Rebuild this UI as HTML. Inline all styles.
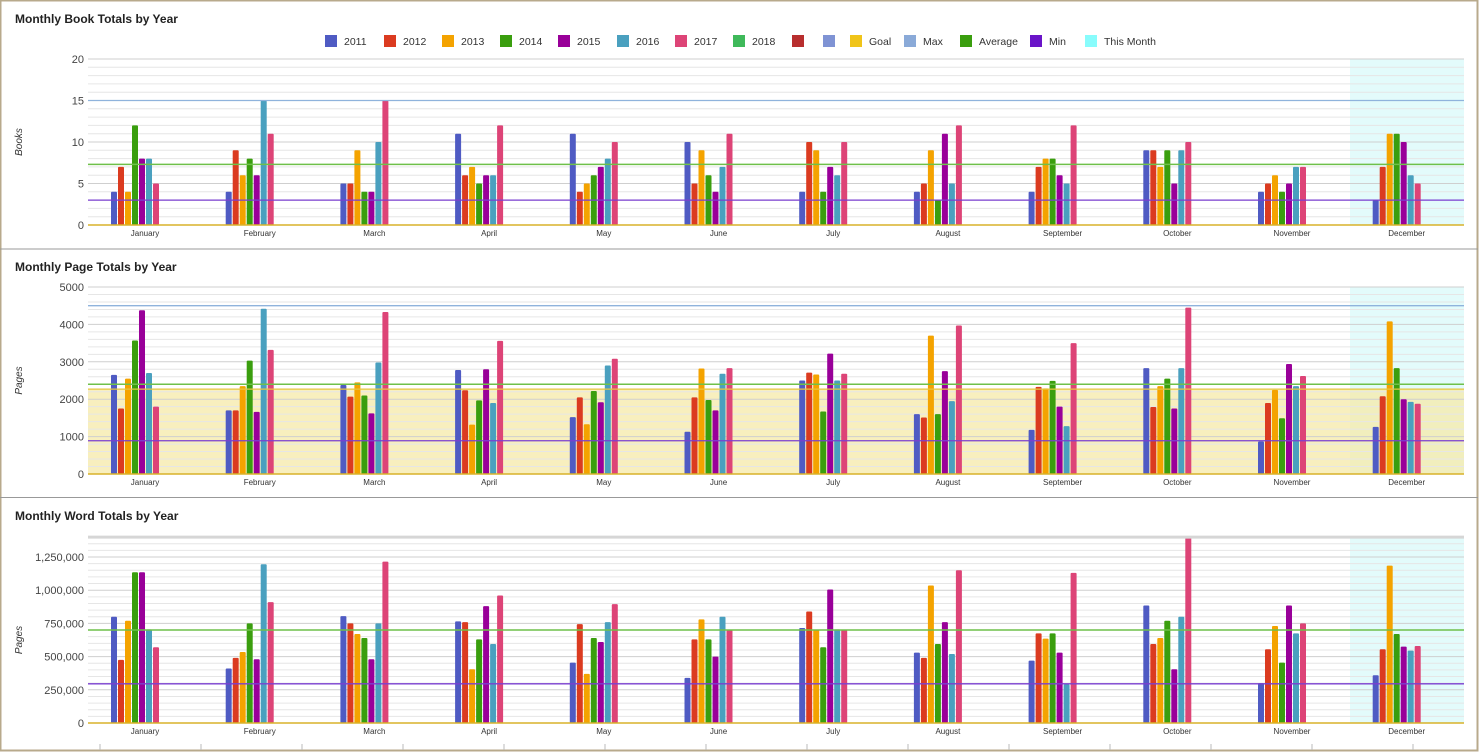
<!DOCTYPE html><html><head><meta charset="utf-8"><style>
html,body{margin:0;padding:0;background:#fff;width:1480px;height:752px;overflow:hidden}
svg{display:block;font-family:"Liberation Sans",Arial,sans-serif}
</style></head><body>
<svg id="s" width="1480" height="752" xmlns="http://www.w3.org/2000/svg"></svg>
<script>
const S=document.getElementById('s');let h='';
const col=['#4f5bc3','#db3b20','#f4a300','#3a9e0e','#990099','#4aa0bf','#dd4477'];
const months=['January','February','March','April','May','June','July','August','September','October','November','December'];
const books=[[4,7,4,12,8,8,5],[4,9,6,8,6,15,11],[5,5,9,4,4,10,15],[11,6,7,5,6,6,12],[11,4,5,6,7,8,10],[10,5,9,6,4,7,11],[4,10,9,4,7,6,10],[4,5,9,3,11,5,12],[4,7,8,8,6,5,12],[9,9,7,9,5,9,10],[4,5,6,4,5,7,7],[3,7,11,11,10,6,5]];
const pages=[[2650,1750,2550,3570,4380,2700,1800],[1700,1700,2350,3030,1660,4420,3320],[2380,2070,2450,2100,1620,2980,4330],[2780,2240,1320,1970,2800,1900,3560],[1520,2050,1330,2220,1920,2900,3080],[1130,2050,2820,1980,1700,2680,2830],[2500,2710,2660,1670,3220,2500,2680],[1600,1510,3700,1600,2750,1950,3970],[1180,2330,2290,2490,1800,1280,3500],[2830,1790,2350,2550,1750,2830,4450],[870,1900,2250,1490,2940,2350,2620],[1260,2080,4080,2830,2000,1930,1880]];
const words=[[800,475,770,1135,1135,705,570],[410,490,535,750,480,1195,910],[805,750,670,640,480,750,1215],[765,760,405,630,880,595,960],[455,745,370,640,610,760,895],[340,630,780,630,500,800,700],[715,840,700,570,1005,705,700],[530,490,1035,595,760,520,1150],[470,675,635,675,530,290,1130],[885,595,640,770,405,800,1405],[300,555,730,455,885,675,750],[360,555,1185,670,575,545,580]].map(r=>r.map(v=>v*1000));
const X0=88,X1=1464;
function panel(o){
 const {title,ty,top,bot,max,major,minor,data,fmt,ytitle,lines,goalBand,topLine}=o;
 const sc=(bot-top)/max, Y=v=>bot-v*sc;
 h+=`<text x="15" y="${ty}" font-size="12" font-weight="bold" fill="#222">${title}</text>`;
 const plotTop=topLine||top;
 h+=`<rect x="1350" y="${plotTop}" width="${X1-1350}" height="${bot-plotTop}" fill="#e3fbfb"/>`;
 if(goalBand) h+=`<rect x="${X0}" y="${Y(goalBand)}" width="${X1-X0}" height="${bot-Y(goalBand)}" fill="#f5e9a8" opacity="0.75"/>`;
 for(let v=0;v<=max*1.12;v+=minor){const y=Y(v);if(y<plotTop-0.5)break;
  const isMaj=Math.abs(v/major-Math.round(v/major))<1e-6;
  h+=`<line x1="${X0}" x2="${X1}" y1="${y}" y2="${y}" stroke="${isMaj?'#cfcfcf':'#e6e6e6'}" stroke-width="1"/>`;
  if(isMaj&&v<=max+1e-6) h+=`<text x="84" y="${y+4}" font-size="11" fill="#444" text-anchor="end">${fmt(v)}</text>`;}
 h+=`<text transform="translate(22,${(top+bot)/2}) rotate(-90)" font-size="10" font-style="italic" fill="#333" text-anchor="middle">${ytitle}</text>`;
 data.forEach((r,m)=>{const gx=111+m*114.7;
  r.forEach((v,i)=>{const y=Y(v);h+=`<rect x="${gx+i*7}" y="${y}" width="6" height="${bot-y}" rx="1" fill="${col[i]}"/>`;});
  h+=`<text x="${gx+34}" y="${bot+11}" font-size="8" fill="#333" text-anchor="middle">${months[m]}</text>`;});
 lines.forEach(([v,c,w])=>{h+=`<line x1="${X0}" x2="${X1}" y1="${Y(v)}" y2="${Y(v)}" stroke="${c}" stroke-width="${w||1.3}"/>`;});
}
// frame
h+=`<rect x="0.5" y="0.5" width="1477" height="750" fill="none" stroke="#b8aa8c" stroke-width="2"/>`;
h+=`<line x1="0" x2="1478" y1="249" y2="249" stroke="#999"/><line x1="0" x2="1478" y1="497.5" y2="497.5" stroke="#999"/>`;
// legend
const leg=[[325,'#4f5bc3','2011'],[384,'#db3b20','2012'],[442,'#f4a300','2013'],[500,'#3a9e0e','2014'],[558,'#990099','2015'],[617,'#4aa0bf','2016'],[675,'#dd4477','2017'],[733,'#3fb95a','2018'],[792,'#b82e2e',''],[823,'#7f93d4',''],[850,'#f0c419','Goal'],[904,'#8aaad8','Max'],[960,'#3a9e0e','Average'],[1030,'#6a14c8','Min'],[1085,'#88fcfc','This Month']];
leg.forEach(([x,c,t])=>{h+=`<rect x="${x}" y="35" width="12" height="12" fill="${c}"/><text x="${x+19}" y="45" font-size="10.5" fill="#333">${t}</text>`;});
panel({title:'Monthly Book Totals by Year',ty:23,top:59,bot:225,max:20,major:5,minor:1,data:books,fmt:v=>v,ytitle:'Books',
 lines:[[15,'#8fb3dc'],[7.3,'#6fc04a',1.5],[3,'#7a3fd0'],[0,'#d8b22a',1.5]]});
panel({title:'Monthly Page Totals by Year',ty:271,top:287,bot:474,max:5000,major:1000,minor:200,data:pages,fmt:v=>v,ytitle:'Pages',goalBand:2270,
 lines:[[4500,'#8fb3dc'],[2270,'#e6c640'],[2400,'#6fc04a',1.5],[890,'#7a3fd0'],[0,'#d8b22a',1.5]]});
panel({title:'Monthly Word Totals by Year',ty:520,top:557,bot:723,max:1250000,major:250000,minor:50000,data:words,fmt:v=>v.toLocaleString('en-US'),ytitle:'Pages',topLine:537,
 lines:[[1400000,'#d6d6d6',3],[700000,'#6fc04a',1.5],[295000,'#7a3fd0'],[0,'#d8b22a',1.5]]});
for(let i=0;i<15;i++){const x=100+i*101;h+=`<line x1="${x}" x2="${x}" y1="744" y2="750" stroke="#bbb"/>`;}
S.innerHTML=h;
</script></body></html>
